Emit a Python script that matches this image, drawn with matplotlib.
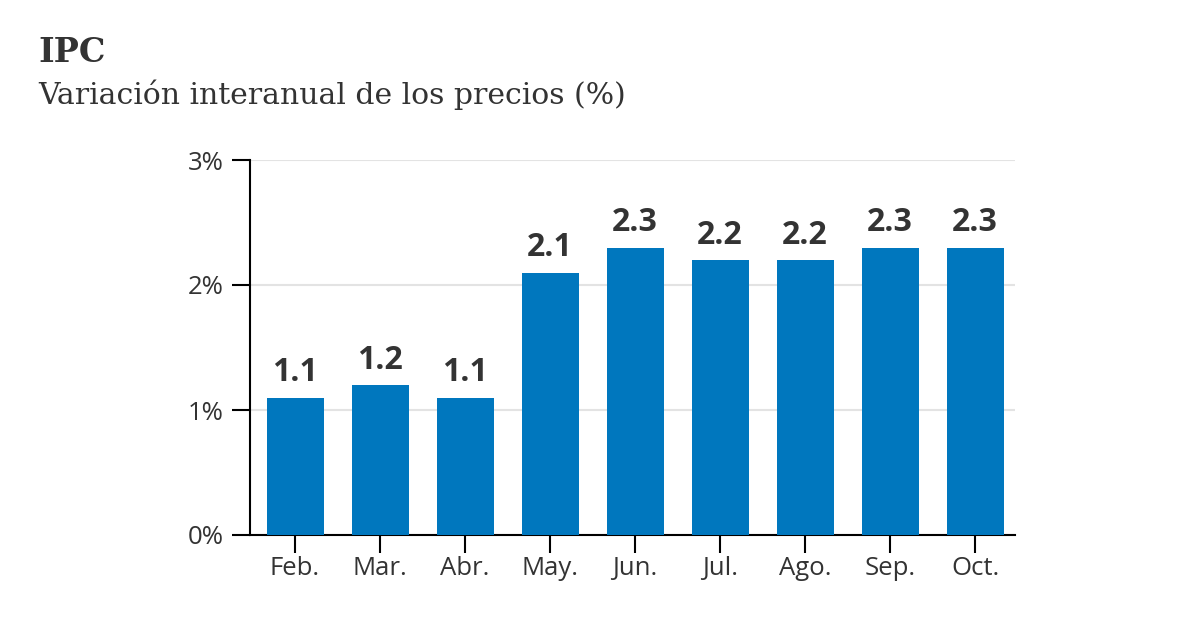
import numpy as np
import matplotlib.pyplot as plt

# -----------------------
# Data
# -----------------------
months = ['Feb.', 'Mar.', 'Abr.', 'May.', 'Jun.', 'Jul.', 'Ago.', 'Sep.', 'Oct.']
ipc = [1.1, 1.2, 1.1, 2.1, 2.3, 2.2, 2.2, 2.3, 2.3]
y_ticks = [0, 1, 2, 3]

BAR_COLOR = '#0077be'
TEXT_COLOR = '#333333'
GRID_COLOR = '#e3e3e3'

plt.rcParams['font.family'] = ['Open Sans', 'DejaVu Sans']

fig = plt.figure(figsize=(12, 6.3), dpi=100)
ax = fig.add_axes([250 / 1200, 95 / 630, 765 / 1200, 375 / 630])

x = np.arange(len(months))
bars = ax.bar(x, ipc, width=0.67, color=BAR_COLOR, zorder=3)

for rect, v in zip(bars, ipc):
    ax.annotate(f'{v:.1f}', (rect.get_x() + rect.get_width() / 2, v),
                xytext=(0, 6), textcoords='offset points',
                ha='center', va='bottom', fontsize=23, fontweight='bold',
                color=TEXT_COLOR)

ax.set_xlim(-0.53, len(months) - 0.53)
ax.set_ylim(0, 3)
ax.set_xticks(x, months)
ax.set_yticks(y_ticks, [f'{t}%' for t in y_ticks])

ax.yaxis.grid(True, color=GRID_COLOR, linewidth=1.5, zorder=0)
ax.set_axisbelow(True)
for s in ['top', 'right']:
    ax.spines[s].set_visible(False)
for s in ['left', 'bottom']:
    ax.spines[s].set_color('black')
    ax.spines[s].set_linewidth(1.5)

ax.tick_params(axis='both', length=13, width=1.5, color='black',
               labelsize=18.5, labelcolor=TEXT_COLOR)
ax.tick_params(axis='y', pad=6)
ax.tick_params(axis='x', pad=2)

fig.text(38 / 1200, 1 - 52 / 630, 'IPC', family=['DejaVu Serif'],
         fontsize=24, fontweight='bold', color=TEXT_COLOR, va='center', ha='left')
fig.text(38 / 1200, 1 - 95 / 630, 'Variación interanual de los precios (%)',
         family=['DejaVu Serif'], fontsize=21.5, color=TEXT_COLOR,
         va='center', ha='left')

fig.savefig('out.png', dpi=100, facecolor='white')
